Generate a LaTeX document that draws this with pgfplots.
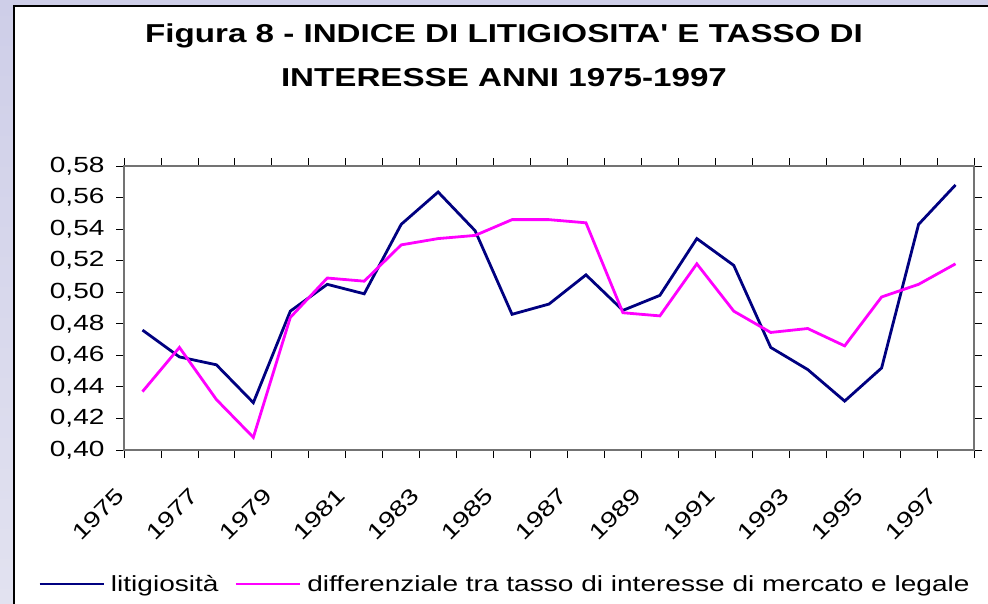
\documentclass[border=0pt]{standalone}
\usepackage{fontspec}
\setmainfont{Liberation Sans}[FakeStretch=1.28]
\newfontfamily\titlefont{Liberation Sans}[FakeStretch=1.28]
\usepackage{pgfplots}
\pgfplotsset{compat=1.18}
\definecolor{navyline}{RGB}{0,0,128}
\definecolor{magline}{RGB}{255,0,255}
\definecolor{bgtop}{RGB}{206,206,232}
\definecolor{bgbot}{RGB}{226,226,240}
\begin{document}
\begin{tikzpicture}
\path[use as bounding box] (0,0) rectangle (988bp,-604bp);
\shade[top color=bgtop, bottom color=bgbot] (0,0) rectangle (988bp,-604bp);
\fill[white] (14bp,-6bp) rectangle (988bp,-604bp);
\draw[black, line width=2bp] (14bp,-604bp) -- (14bp,-6bp) -- (988bp,-6bp);
\node[anchor=base, font=\titlefont\bfseries\fontsize{26}{30}\selectfont] at (504bp,-42bp) {Figura 8 - INDICE DI LITIGIOSITA' E TASSO DI};
\node[anchor=base, font=\titlefont\bfseries\fontsize{26}{30}\selectfont] at (504bp,-86bp) {INTERESSE ANNI 1975-1997};
\begin{axis}[
  at={(124bp,-450bp)}, anchor=south west,
  width=850bp, height=284bp, scale only axis,
  xmin=0, xmax=23, ymin=0.40, ymax=0.58,
  axis line style={draw=gray!90!black, line width=2bp},
  xtick={0,...,23}, xticklabels={},
  ytick={0.40,0.42,...,0.581},
  tick align=outside, major tick length=8bp,
  tick style={black, line width=0.8bp},
  extra x ticks={0.5,2.5,...,22.5},
  extra x tick labels={1975,1977,1979,1981,1983,1985,1987,1989,1991,1993,1995,1997},
  extra x tick style={major tick length=0pt,
    xticklabel style={xshift=-28bp, yshift=-36bp, rotate=45, anchor=north east, inner sep=0pt}},
  /pgf/number format/fixed, /pgf/number format/fixed zerofill,
  /pgf/number format/precision=2, /pgf/number format/use comma,
  /pgf/number format/assume math mode=true,
  yticklabel style={anchor=east, xshift=-8bp, font=\fontsize{22}{26}\selectfont},
  xticklabel style={font=\fontsize{22}{26}\selectfont},
  legend columns=2,
  legend style={at={(-0.1012,-0.4718)}, anchor=west, draw=none, fill=none,
    font=\fontsize{22}{26}\selectfont, inner sep=0pt,
    /tikz/every even column/.append style={column sep=16bp},
    nodes={inner sep=0pt}},
  legend image code/.code={\draw[#1] (0bp,0bp) -- (64bp,0bp);},
  legend cell align=left,
]
\addplot[navyline, line width=2.8bp, line join=miter] coordinates {
(0.5,0.476) (1.5,0.459) (2.5,0.454) (3.5,0.430) (4.5,0.488) (5.5,0.505)
(6.5,0.499) (7.5,0.543) (8.5,0.5635) (9.5,0.539) (10.5,0.486) (11.5,0.4925)
(12.5,0.511) (13.5,0.4885) (14.5,0.498) (15.5,0.534) (16.5,0.517) (17.5,0.465)
(18.5,0.451) (19.5,0.431) (20.5,0.452) (21.5,0.543) (22.5,0.568)};
\addlegendentry{\hspace{6bp}litigiosità}
\addplot[magline, line width=2.8bp, line join=miter] coordinates {
(0.5,0.437) (1.5,0.465) (2.5,0.432) (3.5,0.408) (4.5,0.484) (5.5,0.509)
(6.5,0.507) (7.5,0.530) (8.5,0.534) (9.5,0.536) (10.5,0.546) (11.5,0.546)
(12.5,0.544) (13.5,0.487) (14.5,0.485) (15.5,0.518) (16.5,0.488) (17.5,0.4745)
(18.5,0.477) (19.5,0.466) (20.5,0.497) (21.5,0.505) (22.5,0.518)};
\addlegendentry{\hspace{6bp}differenziale tra tasso di interesse di mercato e legale}
\end{axis}
\end{tikzpicture}
\end{document}
